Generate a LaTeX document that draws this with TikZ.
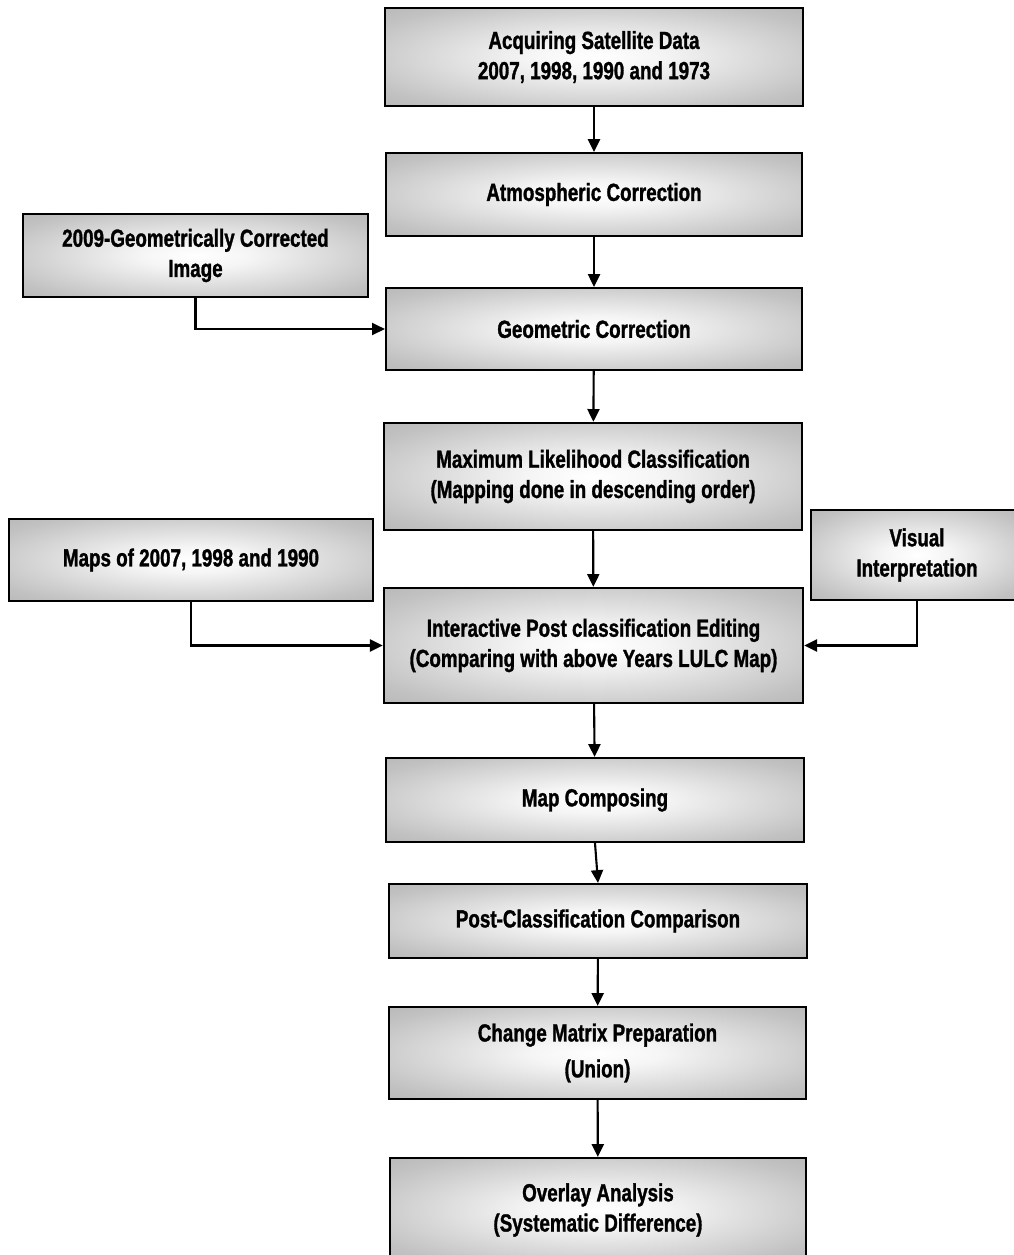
\documentclass[tikz,border=0pt]{standalone}
\usepackage{fontspec}
\newfontfamily\boxfont{Liberation Sans}[FakeStretch=0.76, BoldFeatures={FakeBold=1.2}]
\usepackage{tikz}
\usetikzlibrary{positioning,arrows.meta,shapes.geometric}

\pgfdeclareradialshading{boxglow}{\pgfpoint{0bp}{0bp}}{%
  color(0bp)=(white); color(8bp)=(white!96!black); color(30bp)=(black!24);
  color(50bp)=(black!36); color(75bp)=(black!40)}

\tikzset{
  box/.style={draw, line width=1.5pt, rectangle, inner sep=0pt, align=center,
    shading=boxglow,
    font=\boxfont\bfseries\fontsize{17.6pt}{21.5pt}\selectfont},
  flow/.style={line width=1.5pt, -{Triangle[length=0.32cm,width=0.3cm]}}
}

\begin{document}
\begin{tikzpicture}[x=0.025cm, y=-0.025cm]
    \useasboundingbox[fill=white] (0,0) rectangle (1013,1255);

    % main column
    \node[box, minimum width=10.45cm, minimum height=2.45cm] (acq) at (594, 57)
        {Acquiring Satellite Data\\2007, 1998, 1990 and 1973};
    \node[box, minimum width=10.4cm, minimum height=2.07cm] (atm) at (594, 194.5)
        {Atmospheric Correction};
    \node[box, minimum width=10.4cm, minimum height=2.05cm] (geo) at (594, 329)
        {Geometric Correction};
    \node[box, minimum width=10.45cm, minimum height=2.68cm] (mlc) at (593, 476.5)
        {Maximum Likelihood Classification\\(Mapping done in descending order)};
    \node[box, minimum width=10.48cm, minimum height=2.88cm] (ipc) at (593.5, 645.5)
        {Interactive Post classification Editing\\(Comparing with above Years LULC Map)};
    \node[box, minimum width=10.45cm, minimum height=2.1cm] (mcp) at (595, 800)
        {Map Composing};
    \node[box, minimum width=10.45cm, minimum height=1.85cm] (pcc) at (598, 921)
        {Post-Classification Comparison};
    \node[box, minimum width=10.43cm, minimum height=2.3cm] (cmp) at (597.5, 1053)
        {Change Matrix Preparation\\[4pt](Union)};
    \node[box, minimum width=10.4cm, minimum height=2.6cm] (ova) at (598, 1210)
        {Overlay Analysis\\(Systematic Difference)};

    % side inputs
    \node[box, minimum width=8.63cm, minimum height=2.08cm] (gci) at (195.5, 255.5)
        {2009-Geometrically Corrected\\Image};
    \node[box, minimum width=9.1cm, minimum height=2.05cm] (maps) at (191, 560)
        {Maps of 2007, 1998 and 1990};
    \node[box, minimum width=5.3cm, minimum height=2.25cm] (vis) at (917, 555)
        {Visual\\Interpretation};

    \draw[flow] (acq) -- (atm);
    \draw[flow] (atm) -- (geo);
    \draw[flow] (geo) -- (mlc);
    \draw[flow] (mlc) -- (ipc);
    \draw[flow] (ipc) -- (mcp);
    \draw[flow] (mcp.south) -- (pcc.north);
    \draw[flow] (pcc) -- (cmp);
    \draw[flow] (cmp) -- (ova);

    \draw[flow] (gci.south) |- (geo.west);
    \draw[flow] (maps.south) |- (ipc.west);
    \draw[flow] (vis.south) |- (ipc.east);
\end{tikzpicture}
\end{document}
